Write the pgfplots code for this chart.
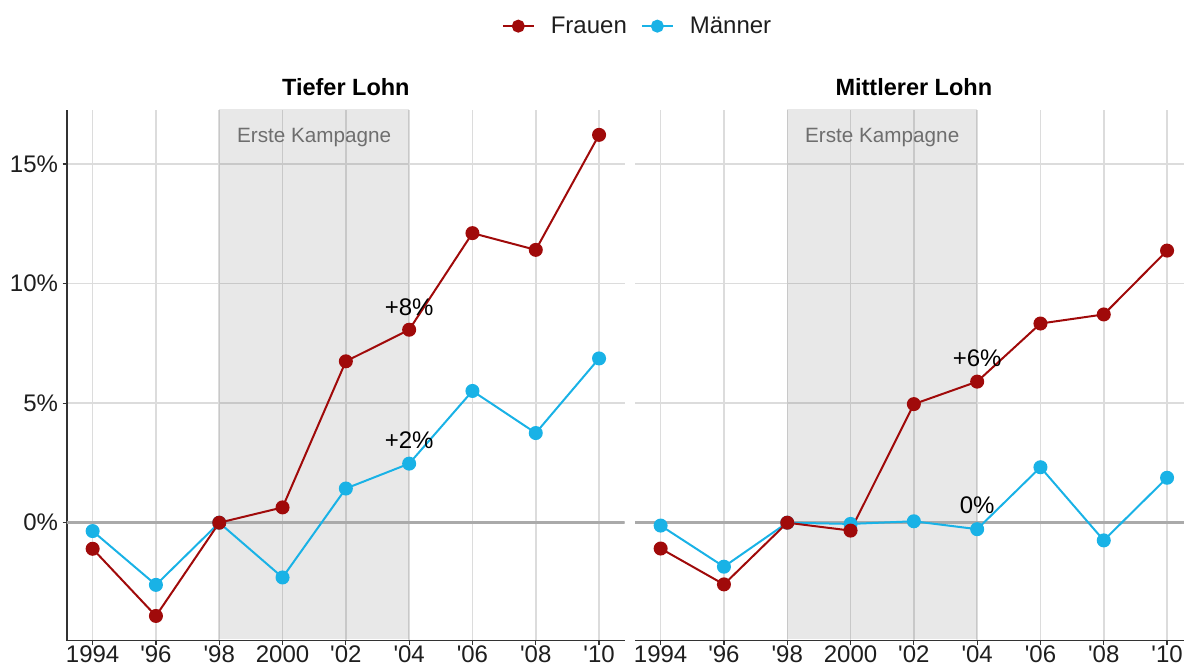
\documentclass[border=0pt]{standalone}
\usepackage{pgfplots}
\pgfplotsset{compat=1.18}
\usepackage{fontspec}
\setmainfont{Liberation Sans}
\definecolor{frau}{RGB}{160,10,10}
\definecolor{mann}{RGB}{25,178,230}
\definecolor{gridc}{RGB}{220,220,220}
\definecolor{axc}{RGB}{51,51,51}
\definecolor{txtc}{RGB}{30,30,30}
\definecolor{annc}{RGB}{110,110,110}
\definecolor{zeroc}{RGB}{170,170,170}

\pgfplotstableread{
year frauen maenner
1994 -1.09 -0.35
1996 -3.90 -2.60
1998  0.00  0.00
2000  0.64 -2.29
2002  6.75  1.43
2004  8.07  2.47
2006 12.11  5.51
2008 11.41  3.75
2010 16.22  6.87
}\tiefer

\pgfplotstableread{
year frauen maenner
1994 -1.08 -0.12
1996 -2.58 -1.84
1998  0.00  0.00
2000 -0.33 -0.05
2002  4.96  0.06
2004  5.90 -0.27
2006  8.33  2.32
2008  8.71 -0.74
2010 11.38  1.88
}\mittlerer

\pgfplotsset{
  panel/.style={
    scale only axis, width=557.7pt, height=530.6pt, anchor=south west,
    xmin=1993.19, xmax=2010.81, ymin=-4.93, ymax=17.26,
    xtick={1994,1996,1998,2000,2002,2004,2006,2008,2010},
    xticklabels={1994,\textquotesingle96,\textquotesingle98,2000,\textquotesingle02,\textquotesingle04,\textquotesingle06,\textquotesingle08,\textquotesingle10},
    ytick={0,5,10,15},
    grid=major, major grid style={gridc, line width=1.5pt},
    axis x line*=bottom, axis y line*=left,
    axis line style={axc, line width=1.5pt, -},
    tick pos=left,
    tick align=outside, major tick length=4.5pt, tick style={axc, line width=1.2pt},
    ticklabel style={font=\fontsize{24}{28}\selectfont, text=txtc},
    xticklabel style={yshift=3pt},
    yticklabel style={xshift=-1pt},
    /pgf/number format/assume math mode=true,
    title style={font=\bfseries\fontsize{23.5}{28}\selectfont, text=black, at={(0.5,1)}, anchor=base, yshift=8.5pt},
    legend image code/.code={\draw[mark repeat=2,mark phase=2,##1] plot coordinates {(0pt,0pt)(15.5pt,0pt)(31pt,0pt)};},
  },
  fr/.style={frau, line width=2pt, mark=*, mark size=6pt, mark options={fill=frau, draw=frau, solid}},
  ma/.style={mann, line width=2pt, mark=*, mark size=6pt, mark options={fill=mann, draw=mann, solid}},
}

\begin{document}
\begin{tikzpicture}
\useasboundingbox (0,0) rectangle (1184pt,669pt);

\begin{axis}[panel, at={(67pt,28.4pt)}, title={Tiefer Lohn},
  yticklabels={0\%,5\%,10\%,15\%},
  legend style={at={(1.023,1.158)}, anchor=center, draw=none, fill=none,
    legend columns=2, font=\fontsize{24}{28}\selectfont, text=txtc,
    /tikz/every odd column/.append style={column sep=14pt},
    /tikz/every even column/.append style={column sep=12pt}},
]
\addlegendimage{fr, mark size=5.5pt}\addlegendentry{Frauen}
\addlegendimage{ma, mark size=5.5pt}\addlegendentry{Männer}
\fill[black, fill opacity=0.09] (axis cs:1998,-4.85) rectangle (axis cs:2004,17.3);
\draw[zeroc, line width=3pt] (axis cs:1990,0) -- (axis cs:2015,0);
\addplot[ma, forget plot] table[x=year, y=maenner] {\tiefer};
\addplot[fr, forget plot] table[x=year, y=frauen] {\tiefer};
\node[font=\fontsize{20.7}{24}\selectfont, text=annc, anchor=base] at (axis cs:2001,15.92) {Erste Kampagne};
\node[font=\fontsize{24}{28}\selectfont, text=black, anchor=base] at (axis cs:2004,8.65) {+8\%};
\node[font=\fontsize{24}{28}\selectfont, text=black, anchor=base] at (axis cs:2004,3.12) {+2\%};
\end{axis}

\begin{axis}[panel, at={(635pt,28.4pt)}, title={Mittlerer Lohn},
  yticklabels={}, y axis line style={draw=none}, ytick style={draw=none},
]
\fill[black, fill opacity=0.09] (axis cs:1998,-4.85) rectangle (axis cs:2004,17.3);
\draw[zeroc, line width=3pt] (axis cs:1990,0) -- (axis cs:2015,0);
\addplot[ma] table[x=year, y=maenner] {\mittlerer};
\addplot[fr] table[x=year, y=frauen] {\mittlerer};
\node[font=\fontsize{20.7}{24}\selectfont, text=annc, anchor=base] at (axis cs:2001,15.92) {Erste Kampagne};
\node[font=\fontsize{24}{28}\selectfont, text=black, anchor=base] at (axis cs:2004,6.52) {+6\%};
\node[font=\fontsize{24}{28}\selectfont, text=black, anchor=base] at (axis cs:2004,0.38) {0\%};
\end{axis}
\end{tikzpicture}
\end{document}
